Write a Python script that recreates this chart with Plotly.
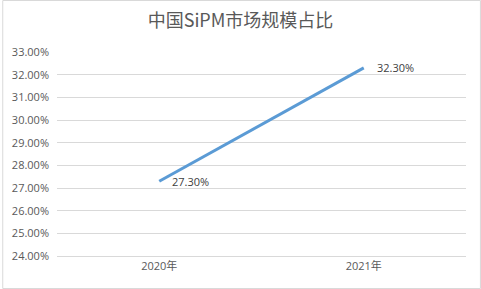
import plotly.graph_objects as go

categories = ["2020年", "2021年"]
values = [27.30, 32.30]
labels = ["27.30%", "32.30%"]
y_ticks = [24, 25, 26, 27, 28, 29, 30, 31, 32, 33]
y_tick_text = [f"{v:.2f}%" for v in y_ticks]

W, H = 481, 289
ml, mr, mt, mb = 55, 15, 52, 33
pw, ph = W - ml - mr, H - mt - mb

fig = go.Figure()
fig.add_trace(go.Scatter(
    x=categories, y=values, mode="lines",
    line=dict(color="#5B9BD5", width=3),
    hoverinfo="skip",
))

annotations = [
    dict(x=c, y=v, text=t, xref="x", yref="y", showarrow=False,
         xanchor="left", yanchor="middle", xshift=11, yshift=0,
         font=dict(size=11, color="#404040", family="Open Sans, Noto Sans CJK SC"))
    for c, v, t in zip(categories, values, labels)
]

fig.update_layout(
    width=W, height=H,
    margin=dict(l=ml, r=mr, t=mt, b=mb),
    paper_bgcolor="white", plot_bgcolor="white",
    showlegend=False,
    annotations=annotations,
    title=dict(text="中国SiPM市场规模占比", x=0.5, xanchor="center", y=1 - 21 / H, yanchor="middle",
               font=dict(size=18, color="#595959", family="Noto Sans CJK SC")),
    xaxis=dict(type="category", range=[-0.5, 1.5], showgrid=False, zeroline=False,
               showline=True, linecolor="#D9D9D9", linewidth=1, ticks="",
               tickfont=dict(size=11, color="#595959", family="Open Sans, Noto Sans CJK SC")),
    yaxis=dict(range=[24, 33], tickvals=y_ticks, ticktext=y_tick_text,
               showgrid=True, gridcolor="#D9D9D9", gridwidth=1, zeroline=False,
               showline=False, ticks="", ticklabelstandoff=7,
               tickfont=dict(size=11, color="#595959", family="Open Sans, Noto Sans CJK SC")),
    shapes=[dict(type="rect", xref="paper", yref="paper",
                 x0=(0.5 - ml) / pw, x1=(W - 0.5 - ml) / pw,
                 y0=(ph + mt - (H - 0.5)) / ph, y1=(ph + mt - 0.5) / ph,
                 line=dict(color="#D9D9D9", width=1), fillcolor="rgba(0,0,0,0)", layer="below")],
)

fig.write_html("out.html")
